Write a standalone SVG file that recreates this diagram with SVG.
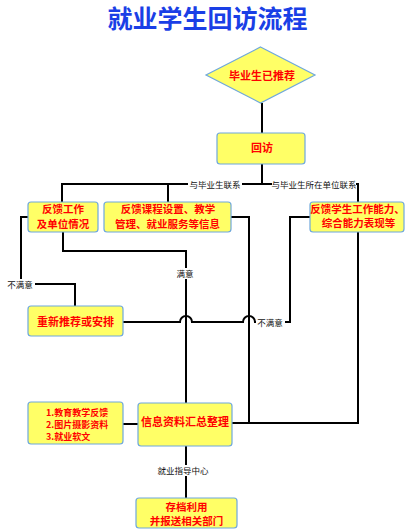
<svg xmlns="http://www.w3.org/2000/svg" width="407" height="530" viewBox="0 0 407 530">
<style>
.box{fill:#ffff66;stroke:#6fa8dc;stroke-width:1.2}
.t{font-family:"Noto Sans CJK SC","Noto Sans",sans-serif;font-weight:bold;fill:#ff0000;font-size:11px;text-anchor:middle}
.t2{font-family:"Noto Sans CJK SC","Noto Sans",sans-serif;font-weight:bold;fill:#ff0000;font-size:10.5px;text-anchor:middle}
.s{font-family:"Noto Sans CJK SC","Noto Sans",sans-serif;font-weight:bold;fill:#ff0000;font-size:9px}
.lbl{font-family:"Noto Sans CJK SC",serif;fill:#111;font-size:8.5px;text-anchor:middle}
.lbg{fill:#ffffff}
.c{fill:none;stroke:#000;stroke-width:2}
</style>
<rect width="407" height="530" fill="#ffffff"/>
<text x="207.5" y="28" font-family="'Noto Sans CJK SC',sans-serif" font-weight="bold" font-size="25" fill="#1a3fe6" text-anchor="middle">就业学生回访流程</text>

<g id="connectors">
<path class="c" d="M262,103 V133"/>
<path class="c" d="M262,164 V184"/>
<path class="c" d="M62,202 V184 H358 V202"/>
<path class="c" d="M168,184 V202"/>
<path class="c" d="M28,217 H21 V284 H75 V306"/>
<path class="c" d="M63,232 V251 H186 V403"/>
<path class="c" d="M231,217 H249 V423"/>
<path class="c" d="M358,232 V423 H232"/>
<path class="c" d="M123,322 H180 A6,6 0 0 1 192,322 H243 A6,6 0 0 1 255,322 H290 V217 H310"/>
<path class="c" d="M123,424 H138"/>
<path class="c" d="M186,446 V498"/>
<rect class="lbg" x="188" y="179" width="54" height="10"/>
<text class="lbl" x="215" y="187.5">与毕业生联系</text>
<rect class="lbg" x="272" y="179" width="84" height="10"/>
<text class="lbl" x="314" y="187.5">与毕业生所在单位联系</text>
<rect class="lbg" x="6" y="279" width="29" height="10"/>
<text class="lbl" x="20" y="287.5">不满意</text>
<rect class="lbg" x="175" y="268" width="20" height="11"/>
<text class="lbl" x="185" y="277">满意</text>
<rect class="lbg" x="256" y="317" width="29" height="10"/>
<text class="lbl" x="270" y="325.5">不满意</text>
<rect class="lbg" x="157" y="465" width="52" height="11"/>
<text class="lbl" x="183" y="473.5">就业指导中心</text>
</g>

<g id="n-start">
<polygon class="box" points="260.5,47 315,75 260.5,103 206,75"/>
<text class="t" x="262" y="79.5">毕业生已推荐</text>
</g>
<g id="n-visit">
<rect class="box" x="217" y="133" width="88" height="31" rx="3"/>
<text class="t" x="262" y="151.5">回访</text>
</g>
<g id="n-fb1">
<rect class="box" x="28" y="202" width="70" height="30" rx="3"/>
<text class="t2" x="63" y="213">反馈工作</text>
<text class="t2" x="63" y="227.5">及单位情况</text>
</g>
<g id="n-fb2">
<rect class="box" x="104" y="202" width="127" height="30" rx="3"/>
<text class="t2" x="168" y="213">反馈课程设置、教学</text>
<text class="t2" x="167.5" y="227.5">管理、就业服务等信息</text>
</g>
<g id="n-fb3">
<rect class="box" x="310" y="202" width="94" height="30" rx="3"/>
<text class="t2" x="357.5" y="212.5">反馈学生工作能力、</text>
<text class="t2" x="358.5" y="227">综合能力表现等</text>
</g>
<g id="n-redo">
<rect class="box" x="28" y="306" width="95" height="30" rx="3"/>
<text class="t" x="75.5" y="325.7">重新推荐或安排</text>
</g>
<g id="n-list">
<rect class="box" x="28" y="402" width="95" height="42" rx="3"/>
<text class="s" x="46" y="415.5">1.教育教学反馈</text>
<text class="s" x="46" y="427.5">2.图片摄影资料</text>
<text class="s" x="46" y="439.5">3.就业软文</text>
</g>
<g id="n-info">
<rect class="box" x="138" y="403" width="94" height="43" rx="3"/>
<text class="t" x="185" y="426">信息资料汇总整理</text>
</g>
<g id="n-archive">
<rect class="box" x="136" y="498" width="101" height="30" rx="3"/>
<text class="t2" x="186.5" y="510.5">存档利用</text>
<text class="t2" x="186.5" y="525">并报送相关部门</text>
</g>
</svg>
